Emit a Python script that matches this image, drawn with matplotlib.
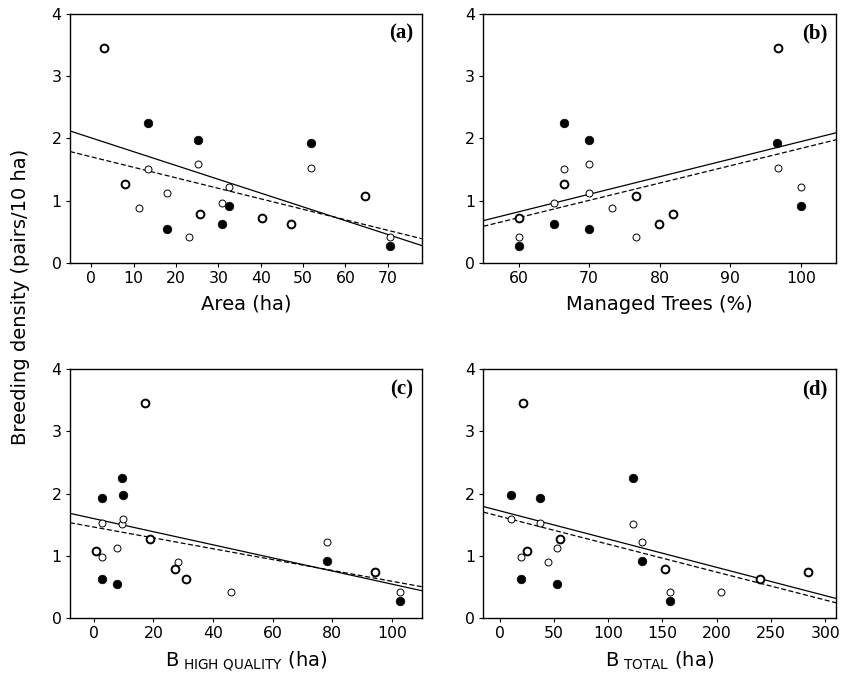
import numpy as np
import matplotlib
matplotlib.use('Agg')
import matplotlib.pyplot as plt

plt.rcParams['font.family'] = ['DejaVu Sans']
plt.rcParams['mathtext.default'] = 'regular'

# breeding density (pairs/10 ha) for the three groups of points
y_filled = [2.25, 1.97, 1.92, 0.91, 0.63, 0.55, 0.27]
y_open_small = [1.51, 1.59, 1.53, 1.22, 0.97, 1.13, 0.42, 0.89, 0.42]
y_open_large = [3.46, 1.27, 1.08, 0.78, 0.73, 0.62]

# x values per panel
x_filled = {
    'a': [13.3, 25.2, 51.8, 32.5, 30.8, 17.8, 70.5],
    'b': [66.5, 70.0, 96.7, 100.0, 65.0, 70.0, 60.0],
    'c': [9.3, 9.9, 2.9, 78.1, 2.7, 7.8, 102.6],
    'd': [122.5, 10.2, 37.5, 131.1, 19.4, 53.2, 156.6],
}
x_open_small = {
    'a': [13.3, 25.2, 51.8, 32.5, 30.8, 17.8, 70.5, 11.3, 23.1],
    'b': [66.5, 70.0, 96.8, 100.0, 65.0, 70.0, 60.0, 73.3, 76.6],
    'c': [9.3, 9.9, 2.9, 78.1, 2.6, 7.8, 102.6, 28.3, 46.1],
    'd': [122.5, 10.2, 37.5, 131.1, 19.4, 53.2, 156.6, 44.9, 204.3],
}
x_open_large = {
    'a': [3.1, 7.9, 64.6, 25.6, 40.4, 47.1],
    'b': [96.8, 66.5, 76.6, 81.9, 60.0, 79.9],
    'c': [17.1, 18.9, 0.6, 27.2, 94.4, 30.9],
    'd': [21.2, 55.4, 25.2, 152.0, 284.3, 240.3],
}

# regression lines (intercept, slope)
fit_solid = {'a': (2.01, -0.02217), 'b': (-0.87, 0.0282), 'c': (1.596, -0.01055), 'd': (1.722, -0.004554)}
fit_dashed = {'a': (1.706, -0.01687), 'b': (-0.94, 0.0278), 'c': (1.46, -0.00873), 'd': (1.633, -0.004492)}

xlims = {'a': (-5, 78), 'b': (55, 105), 'c': (-8, 110), 'd': (-15, 310)}
xticks = {'a': range(0, 71, 10), 'b': range(60, 101, 10), 'c': range(0, 101, 20), 'd': range(0, 301, 50)}
xlabels = {
    'a': 'Area (ha)',
    'b': 'Managed Trees (%)',
    'c': r'B$_{\ HIGH\ QUALITY}$ (ha)',
    'd': r'B$_{\ TOTAL}$ (ha)',
}

fig = plt.figure(figsize=(8.49, 6.78), dpi=100)
positions = {
    'a': [0.0824, 0.6121, 0.4143, 0.3673],
    'b': [0.5693, 0.6121, 0.4154, 0.3673],
    'c': [0.0824, 0.0889, 0.4143, 0.3664],
    'd': [0.5693, 0.0889, 0.4154, 0.3664],
}

for key in ['a', 'b', 'c', 'd']:
    ax = fig.add_axes(positions[key])
    lo, hi = xlims[key]
    xs = np.array([lo, hi])
    b0, b1 = fit_solid[key]
    ax.plot(xs, b0 + b1 * xs, color='black', lw=0.9, zorder=2)
    b0, b1 = fit_dashed[key]
    ax.plot(xs, b0 + b1 * xs, color='black', lw=0.9, ls=(0, (4, 2)), zorder=2)

    ax.plot(x_open_small[key], y_open_small, 'o', ms=5.0, mfc='white', mec='black', mew=0.7, zorder=3)
    ax.plot(x_open_large[key], y_open_large, 'o', ms=5.6, mfc='white', mec='black', mew=1.4, zorder=3)
    ax.plot(x_filled[key], y_filled, 'o', ms=6.3, mfc='black', mec='black', mew=0.4, zorder=4)

    ax.set_xlim(lo, hi)
    ax.set_ylim(0, 4)
    ax.set_xticks(list(xticks[key]))
    ax.set_yticks([0, 1, 2, 3, 4])
    ax.tick_params(direction='out', length=3, width=0.8, labelsize=11.3, pad=3, top=False, right=False)
    for sp in ax.spines.values():
        sp.set_linewidth(1.0)
    ax.set_xlabel(xlabels[key], fontsize=14, labelpad=6)
    ax.text(0.975, 0.96, '(%s)' % key, transform=ax.transAxes, ha='right', va='top',
            fontsize=15, fontweight='bold', family='Liberation Serif')

fig.text(0.024, 0.562, 'Breeding density (pairs/10 ha)', rotation=90, ha='center', va='center', fontsize=14)

fig.savefig('out.png', dpi=100)
